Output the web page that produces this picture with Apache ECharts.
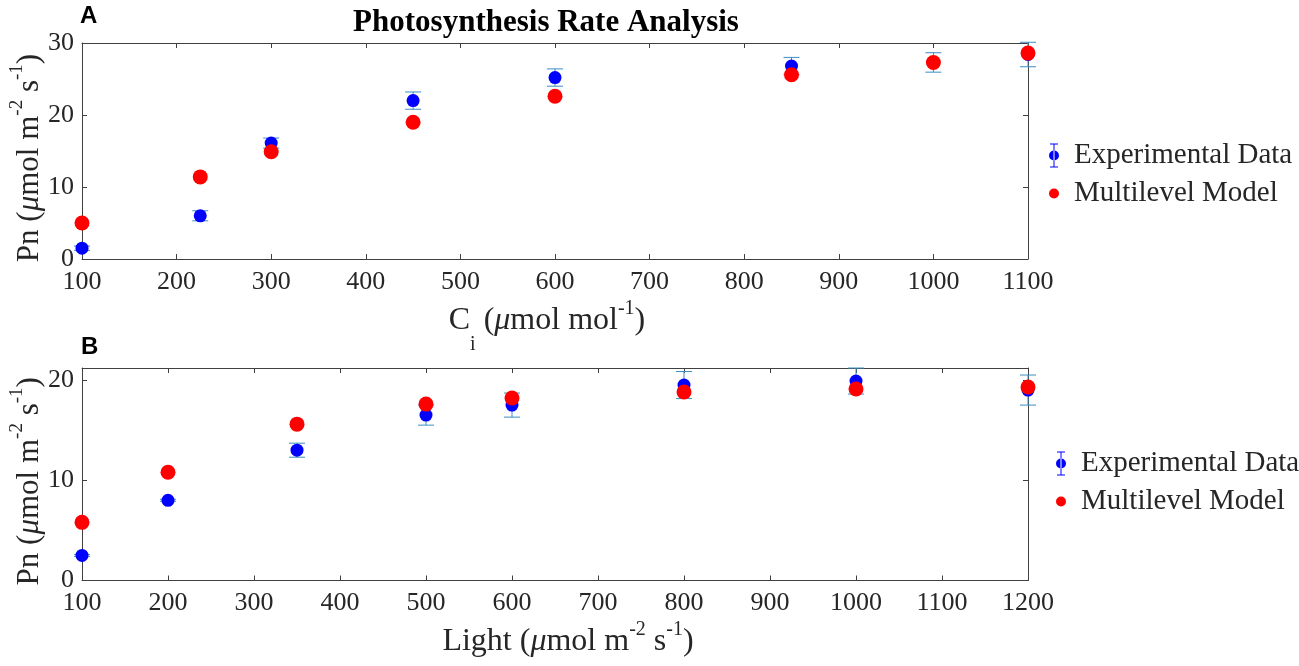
<!DOCTYPE html>
<html>
<head>
<meta charset="utf-8">
<script src="https://cdn.jsdelivr.net/npm/echarts@6/dist/echarts.min.js"></script>
<style>
  html, body { margin: 0; padding: 0; background: #fff; }
  #chart { width: 1299px; height: 666px; }
</style>
</head>
<body>
<div id="chart"></div>
<script>
// panel A: Ci response
var ciX = [100, 225, 300, 450, 600, 850, 1000, 1100];
var ciExp = [1.5, 6.0, 16.1, 22.0, 25.2, 26.8, 27.3, 28.4];
var ciExpErr = [0.3, 0.7, 0.7, 1.2, 1.2, 1.2, 1.35, 1.7];
var ciModel = [5.0, 11.4, 14.9, 19.0, 22.6, 25.6, 27.3, 28.6];

// panel B: light response
var lightX = [100, 200, 350, 500, 600, 800, 1000, 1200];
var lightExp = [2.5, 8.0, 13.0, 16.5, 17.5, 19.5, 19.9, 19.0];
var lightExpErr = [0.1, 0.1, 0.7, 1.0, 1.2, 1.35, 1.3, 1.5];
var lightModel = [5.8, 10.8, 15.6, 17.6, 18.2, 18.8, 19.1, 19.3];

var SERIF = '"Liberation Serif", "Times New Roman", serif';
var AXIS_COLOR = '#404040';
var ERR_COLOR = '#3b8ec2';

var errIcon = 'path://M1,0H9V1H1Z M4.5,0H5.5V24H4.5Z M1,23H9V24H1Z M0,12A5,5 0 1 0 10,12A5,5 0 1 0 0,12Z';

function makeRich(fs) {
  var sfs = Math.round(fs * 0.62);
  return {
    n: { fontFamily: SERIF, fontSize: fs, color: '#262626', lineHeight: fs + 6, verticalAlign: 'bottom' },
    it: { fontFamily: SERIF, fontSize: fs, fontStyle: 'italic', color: '#262626', lineHeight: fs + 6, verticalAlign: 'bottom' },
    sup: { fontFamily: SERIF, fontSize: sfs, color: '#262626', lineHeight: sfs, verticalAlign: 'top' },
    sub: { fontFamily: SERIF, fontSize: sfs, color: '#262626', lineHeight: sfs, verticalAlign: 'bottom', padding: [0, 0, -18, 0] }
  };
}

function pairs(xs, ys) {
  var out = [];
  for (var i = 0; i < xs.length; i++) out.push([xs[i], ys[i]]);
  return out;
}
function errData(xs, ys, es) {
  var out = [];
  for (var i = 0; i < xs.length; i++) out.push([xs[i], ys[i] - es[i], ys[i] + es[i]]);
  return out;
}

// error bar drawn through the axis scale
function renderErr(params, api) {
  var top = api.coord([api.value(0), api.value(2)]);
  var bot = api.coord([api.value(0), api.value(1)]);
  var w = 8;
  var style = { stroke: ERR_COLOR, lineWidth: 1 };
  return {
    type: 'group',
    children: [
      { type: 'line', shape: { x1: top[0], y1: top[1], x2: bot[0], y2: bot[1] }, style: style },
      { type: 'line', shape: { x1: top[0] - w, y1: top[1], x2: top[0] + w, y2: top[1] }, style: style },
      { type: 'line', shape: { x1: bot[0] - w, y1: bot[1], x2: bot[0] + w, y2: bot[1] }, style: style }
    ]
  };
}

function plain(v) { return String(v); }

function xAxisPair(gi, max, name, gap, pad) {
  var base = {
    gridIndex: gi, type: 'value', min: 100, max: max, interval: 100,
    axisLine: { onZero: false, lineStyle: { color: AXIS_COLOR, width: 1 } },
    axisTick: { inside: true, length: 5, lineStyle: { color: AXIS_COLOR } },
    splitLine: { show: false }
  };
  var bottom = Object.assign({}, base, {
    position: 'bottom',
    axisLabel: { fontFamily: SERIF, fontSize: 26, color: '#262626', margin: 10, formatter: plain },
    name: name, nameLocation: 'middle', nameGap: gap,
    nameTextStyle: { rich: makeRich(32), padding: pad }
  });
  var topAx = Object.assign({}, base, { position: 'top', axisLabel: { show: false } });
  return [bottom, topAx];
}

function yAxisPair(gi, max, name) {
  var base = {
    gridIndex: gi, type: 'value', min: 0, max: max, interval: 10,
    axisLine: { show: true, onZero: false, lineStyle: { color: AXIS_COLOR, width: 1 } },
    axisTick: { show: true, inside: true, length: 5, lineStyle: { color: AXIS_COLOR } },
    splitLine: { show: false }
  };
  var left = Object.assign({}, base, {
    position: 'left',
    axisLabel: { fontFamily: SERIF, fontSize: 26, color: '#262626', margin: 8, formatter: plain, showMaxLabel: max % 10 === 0 },
    name: name, nameLocation: 'middle', nameRotate: 90, nameGap: 37, nameMoveOverlap: false,
    nameTextStyle: { rich: makeRich(31), padding: [0, 14, 0, 0] }
  });
  var right = Object.assign({}, base, { position: 'right', axisLabel: { show: false } });
  return [left, right];
}

var xs = xAxisPair(0, 1100, '{n|C}{sub|i}{n| (}{it|μ}{n|mol mol}{sup|-1}{n|)}', 40, [0, 16, 0, 0])
  .concat(xAxisPair(1, 1200, '{n|Light (}{it|μ}{n|mol m}{sup|-2}{n| s}{sup|-1}{n|)}', 39, [0, 0, 0, 26]));
var ys = yAxisPair(0, 30, '{n|Pn (}{it|μ}{n|mol m}{sup|-2}{n| s}{sup|-1}{n|)}')
  .concat(yAxisPair(1, 21.2, '{n|Pn (}{it|μ}{n|mol m}{sup|-2}{n| s}{sup|-1}{n|)}'));

function legendFor(left, top) {
  return {
    left: left, top: top, orient: 'vertical', itemGap: 9,
    itemWidth: 10, itemHeight: 24,
    textStyle: { fontFamily: SERIF, fontSize: 29, color: '#262626', padding: [0, 0, 0, 10] },
    data: [
      { name: 'Experimental Data', icon: errIcon },
      { name: 'Multilevel Model', icon: 'circle' }
    ]
  };
}

function panelSeries(xi, yi, xv, expV, errV, modV) {
  return [
    { type: 'custom', name: 'err', xAxisIndex: xi, yAxisIndex: yi, renderItem: renderErr,
      data: errData(xv, expV, errV), clip: false, z: 2, silent: true },
    { type: 'scatter', name: 'Experimental Data', xAxisIndex: xi, yAxisIndex: yi,
      data: pairs(xv, expV), symbolSize: 13, itemStyle: { color: '#0000ff', opacity: 1 }, clip: false, z: 3 },
    { type: 'scatter', name: 'Multilevel Model', xAxisIndex: xi, yAxisIndex: yi,
      data: pairs(xv, modV), symbolSize: 15, itemStyle: { color: '#ff0000', opacity: 1 }, clip: false, z: 4 }
  ];
}

var chart = echarts.init(document.getElementById('chart'), null, { renderer: 'canvas' });
chart.setOption({
  animation: false,
  backgroundColor: '#ffffff',
  title: {
    text: 'Photosynthesis Rate Analysis',
    left: 541, top: 2, textAlign: 'center',
    textStyle: { fontFamily: SERIF, fontSize: 31, fontWeight: 'bold', color: '#000' }
  },
  graphic: [
    { type: 'text', left: 80, top: 4, style: { text: 'A', font: 'bold 24px "Liberation Sans", Arial, sans-serif', fill: '#000' } },
    { type: 'text', left: 81, top: 335, style: { text: 'B', font: 'bold 24px "Liberation Sans", Arial, sans-serif', fill: '#000' } }
  ],
  legend: [legendFor(1044, 136), legendFor(1051, 444)],
  grid: [
    { left: 82, top: 43, width: 946, height: 216, containLabel: false, outerBoundsMode: 'none' },
    { left: 82, top: 368, width: 946, height: 212.5, containLabel: false, outerBoundsMode: 'none' }
  ],
  xAxis: xs,
  yAxis: ys,
  series: panelSeries(0, 0, ciX, ciExp, ciExpErr, ciModel)
    .concat(panelSeries(2, 2, lightX, lightExp, lightExpErr, lightModel))
});
</script>
</body>
</html>
